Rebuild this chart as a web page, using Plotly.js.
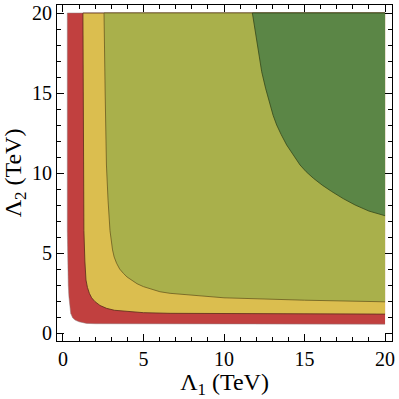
<!DOCTYPE html>
<html>
<head>
<meta charset="utf-8">
<script src="https://cdn.plot.ly/plotly-3.0.1.min.js"></script>
<style>html,body{margin:0;padding:0;background:#fff}</style>
</head>
<body>
<div id="chart" style="width:399px;height:399px"></div>
<script>
// region boundaries (Λ1, Λ2 in TeV)
const redEdgeX = [20, 10, 5, 3, 2, 1.47, 1.0, 0.75, 0.6, 0.48, 0.41, 0.37, 0.33, 0.3, 0.28, 0.27, 0.27, 0.27];
const redEdgeY = [0.55, 0.55, 0.56, 0.57, 0.58, 0.6, 0.7, 0.81, 0.95, 1.23, 1.7, 2.27, 3, 4, 5, 6.4, 12, 20];

const yellowEdgeX = [20, 12, 6.65, 5, 3.96, 3.2, 2.71, 2.3, 1.99, 1.78, 1.64, 1.52, 1.43, 1.36, 1.3, 1.27, 1.24];
const yellowEdgeY = [1.18, 1.2, 1.23, 1.27, 1.33, 1.42, 1.54, 1.72, 1.96, 2.2, 2.48, 2.85, 3.31, 4.5, 6.4, 12, 20];

const greenEdgeX = [20, 15, 10, 8, 6.65, 6.02, 5.5, 4.99, 4.6, 4.27, 3.98, 3.75, 3.52, 3.33, 3.18, 3.08, 2.92, 2.8, 2.7, 2.62, 2.55];
const greenEdgeY = [1.95, 2.05, 2.2, 2.35, 2.48, 2.58, 2.72, 2.9, 3.08, 3.31, 3.5, 3.73, 4.0, 4.36, 4.75, 5.19, 6.4, 8.3, 10.5, 15, 20];

const darkEdgeX = [20, 19.0, 18.14, 17.4, 16.69, 16.1, 15.55, 15.1, 14.72, 14.3, 13.89, 13.55, 13.27, 13.05, 12.86, 12.58, 12.34, 12.17, 12.03, 11.88, 11.76];
const darkEdgeY = [7.33, 7.62, 8.0, 8.4, 8.84, 9.24, 9.67, 10.08, 10.5, 11.1, 11.75, 12.4, 13.0, 13.6, 14.25, 15.3, 16.33, 17.4, 18.42, 19.25, 20];

const COLORS = { red: '#c1403f', yellow: '#dbbe4f', green: '#a9b04b', dark: '#5b8646' };
const SERIF = 'Liberation Serif, Times New Roman, serif';

function region(xs, ys, fill, edge) {
  return {
    type: 'scatter',
    mode: 'lines',
    x: [...xs, 20],
    y: [...ys, 20],
    fill: 'toself',
    fillcolor: fill,
    line: { color: edge, width: 0.8 },
    hoverinfo: 'skip',
    showlegend: false,
  };
}

const data = [
  region(redEdgeX, redEdgeY, COLORS.red, 'rgba(140,120,120,0.6)'),
  region(yellowEdgeX, yellowEdgeY, COLORS.yellow, '#5a2a1a'),
  region(greenEdgeX, greenEdgeY, COLORS.green, '#6a5a20'),
  region(darkEdgeX, darkEdgeY, COLORS.dark, '#34461a'),
];

const axis = {
  showgrid: false,
  zeroline: false,
  showline: true,
  linecolor: '#000',
  linewidth: 1,
  mirror: 'ticks',
  ticks: 'inside',
  ticklen: 7,
  tickwidth: 1,
  tickcolor: '#000',
  dtick: 5,
  tick0: 0,
  minor: { dtick: 1, ticks: 'inside', ticklen: 4, tickcolor: '#000' },
  tickfont: { family: SERIF, size: 20, color: '#000' },
};

const layout = {
  width: 399,
  height: 399,
  margin: { l: 57, r: 7, t: 5, b: 58 },
  paper_bgcolor: '#fff',
  plot_bgcolor: '#fff',
  font: { family: SERIF, color: '#000' },
  xaxis: {
    ...axis,
    range: [-0.37, 20.43],
    title: { text: 'Λ<sub>1</sub> (TeV)', font: { family: SERIF, size: 24 }, standoff: 6 },
  },
  yaxis: {
    ...axis,
    range: [-0.5, 20.5],
    title: { text: 'Λ<sub>2</sub> (TeV)', font: { family: SERIF, size: 24 }, standoff: 6 },
  },
};

Plotly.newPlot('chart', data, layout, { displayModeBar: false, staticPlot: true });
</script>
</body>
</html>
